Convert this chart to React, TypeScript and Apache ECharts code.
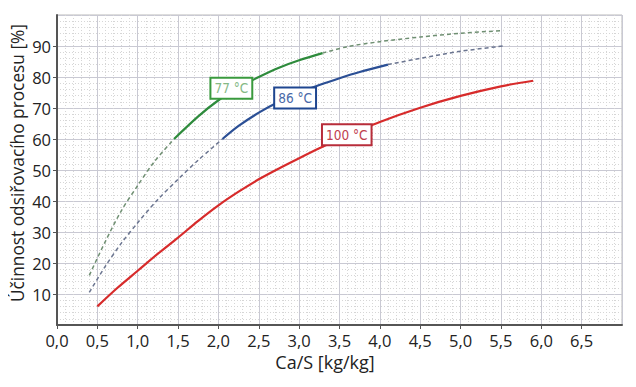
import React, { useEffect, useRef } from "react";
import * as echarts from "echarts";

// Ca/S [kg/kg], efficiency [%]
const green77DashLow: [number, number][] = [[0.4, 16], [0.6, 27], [0.8, 37], [1.0, 45], [1.2, 52.5], [1.45, 60]];
const green77Solid: [number, number][] = [[1.45, 60], [1.75, 67.3], [2.0, 72.5], [2.25, 76.6], [2.5, 80], [2.75, 83], [3.0, 85.4], [3.29, 87.7]];
const green77DashHigh: [number, number][] = [[3.29, 87.7], [3.6, 89.8], [4.0, 91.4], [4.5, 92.9], [5.0, 94.1], [5.53, 95]];

const blue86DashLow: [number, number][] = [[0.4, 10.5], [0.6, 19], [0.8, 26.5], [1.0, 33], [1.25, 40.5], [1.5, 47], [1.75, 53.2], [2.05, 60]];
const blue86Solid: [number, number][] = [[2.05, 60], [2.25, 64.2], [2.5, 68.5], [2.75, 72], [3.0, 74.9], [3.25, 77.4], [3.5, 79.6], [3.75, 81.6], [4.1, 84]];
const blue86DashHigh: [number, number][] = [[4.1, 84], [4.5, 86], [5.0, 88.3], [5.53, 90]];

const red100: [number, number][] = [[0.5, 6], [0.75, 12], [1.0, 17.5], [1.25, 23], [1.5, 28.2], [1.75, 33.6], [2.0, 38.6], [2.25, 43], [2.5, 47], [2.75, 50.5], [3.0, 53.8], [3.25, 57], [3.5, 60], [4.0, 65.5], [4.5, 70.1], [5.0, 73.9], [5.5, 77], [5.9, 78.8]];

const labelTexts = ["77 °C", "86 °C", "100 °C"];
const labelCoords: [number, number][] = [[2.16, 76.4], [2.95, 73.2], [3.59, 61.4]];

const xTitle = "Ca/S [kg/kg]";
const yTitle = "Účinnost odsiřovacího procesu [%]";

const GREEN = "#2e8b3c";
const BLUE = "#2b4f95";
const RED = "#d72b2b";

export default function App() {
  const ref = useRef<HTMLDivElement>(null);
  useEffect(() => {
    if (!ref.current) return;
    const chart = echarts.init(ref.current, undefined, { renderer: "svg" });
    const fontFamily = "'Open Sans', 'Noto Sans', sans-serif";
    const labelMark = (i: number, color: string, textColor: string) => ({
      symbol: "rect",
      symbolSize: 0,
      silent: true,
      data: [
        {
          coord: labelCoords[i],
          label: {
            show: true,
            position: "inside",
            formatter: labelTexts[i],
            color: textColor,
            fontFamily: "'DejaVu Sans Condensed', 'DejaVu Sans', sans-serif",
            fontSize: 13.5,
            backgroundColor: "#fff",
            borderColor: color,
            borderWidth: 2,
            padding: [3, 3, 2, 3],
          },
        },
      ],
    });
    const solid = (data: [number, number][], color: string, z = 3) => ({
      type: "line",
      data,
      showSymbol: false,
      symbol: "none",
      smooth: 0.3,
      z,
      lineStyle: { color, width: 2.2 },
    });
    const dashed = (data: [number, number][], color: string) => ({
      type: "line",
      data,
      showSymbol: false,
      symbol: "none",
      smooth: 0.3,
      z: 2,
      lineStyle: { color, width: 1.5, type: [4, 3] },
    });
    chart.setOption({
      animation: false,
      backgroundColor: "#fff",
      grid: { left: 57, right: 14, top: 15, bottom: 62, outerBoundsMode: "none", containLabel: false },
      xAxis: {
        type: "value",
        min: 0,
        max: 7,
        interval: 0.5,
        axisLine: { show: true, onZero: false, lineStyle: { color: "#555", width: 2 } },
        axisTick: { show: true, length: 4, lineStyle: { color: "#555" } },
        axisLabel: {
          fontFamily,
          fontSize: 16.5,
          color: "#222",
          margin: 7,
          showMaxLabel: false,
          formatter: (v: number) => v.toFixed(1).replace(".", ","),
        },
        splitLine: { show: true, lineStyle: { color: "#c9c9d3", width: 1 } },
        minorTick: { show: false, splitNumber: 5 },
        minorSplitLine: { show: true, lineStyle: { color: "#d6d6d6", width: 1, type: [1, 2] } },
      },
      yAxis: {
        type: "value",
        min: 0,
        max: 100,
        interval: 10,
        axisLine: { show: true, lineStyle: { color: "#555", width: 2 } },
        axisTick: { show: true, length: 4, lineStyle: { color: "#555" } },
        axisLabel: {
          fontFamily,
          fontSize: 16.5,
          color: "#222",
          margin: 6,
          showMinLabel: false,
          showMaxLabel: false,
        },
        splitLine: { show: true, lineStyle: { color: "#c9c9d3", width: 1 } },
        minorTick: { show: false, splitNumber: 5 },
        minorSplitLine: { show: true, lineStyle: { color: "#d6d6d6", width: 1, type: [1, 2] } },
      },
      graphic: [
        {
          type: "rect",
          shape: { x: 57, y: 15, width: 636 - 57 - 14, height: 387 - 15 - 62 },
          style: { fill: "none", stroke: "#bbb", lineWidth: 1 },
          silent: true,
          z: -1,
        },
        {
          type: "text",
          x: 17,
          y: 163,
          rotation: Math.PI / 2,
          silent: true,
          style: {
            text: yTitle,
            fontFamily,
            fontSize: 17.3,
            fill: "#222",
            textAlign: "center",
            textVerticalAlign: "middle",
          },
        },
        {
          type: "text",
          x: 325,
          y: 362,
          silent: true,
          style: {
            text: xTitle,
            fontFamily,
            fontSize: 18,
            fill: "#222",
            textAlign: "center",
            textVerticalAlign: "middle",
          },
        },
      ],
      series: [
        dashed(green77DashLow, "#6f8f72"),
        { ...solid(green77Solid, GREEN), markPoint: labelMark(0, "#3a9a3e", "#86b986") },
        dashed(green77DashHigh, "#6f8f72"),
        dashed(blue86DashLow, "#6b7590"),
        { ...solid(blue86Solid, BLUE), markPoint: labelMark(1, "#1f4690", "#4a6aa8") },
        dashed(blue86DashHigh, "#6b7590"),
        { ...solid(red100, RED), markPoint: labelMark(2, "#b82d3a", "#c0404e") },
      ],
    });
    return () => chart.dispose();
  }, []);
  return <div ref={ref} style={{ width: 636, height: 387, margin: -8 }} />;
}
